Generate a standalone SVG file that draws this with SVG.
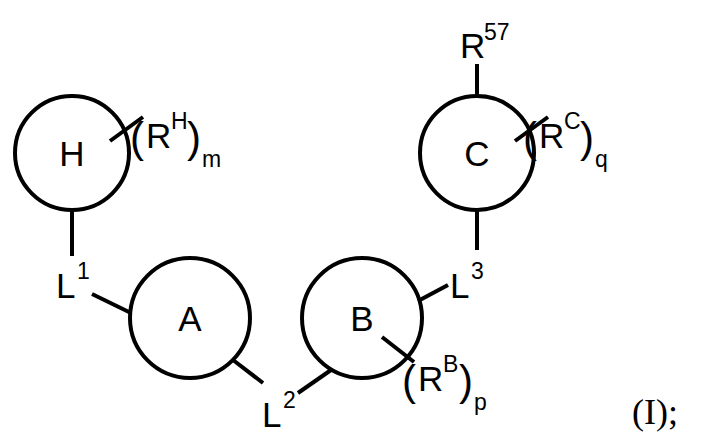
<svg xmlns="http://www.w3.org/2000/svg" width="721" height="439" viewBox="0 0 721 439">
<style>
.r{fill:none;stroke:#000;stroke-width:4}
.l{stroke:#000;stroke-width:4;fill:none}
text{font-family:"Liberation Sans",Arial,sans-serif;font-size:35px;fill:#000}
.s{font-size:23px}
.p{font-size:42px}
</style>
<rect width="721" height="439" fill="#fff"/>
<g id="H"><circle class="r" cx="72" cy="153" r="57"/><text x="72" y="166" text-anchor="middle">H</text></g>
<g id="A"><circle class="r" cx="190" cy="318" r="60"/><text x="190" y="331" text-anchor="middle">A</text></g>
<g id="B"><circle class="r" cx="362" cy="318" r="60"/><text x="362" y="331" text-anchor="middle">B</text></g>
<g id="C"><circle class="r" cx="477" cy="153" r="57"/><text x="477" y="166" text-anchor="middle">C</text></g>
<g id="labels">
<text x="56" y="298">L</text><text class="s" x="77" y="279">1</text>
<text x="262" y="427">L</text><text class="s" x="283" y="408">2</text>
<text x="450" y="298">L</text><text class="s" x="471" y="279">3</text>
<text x="460" y="58">R</text><text class="s" x="484" y="40">57</text>
<text class="p" x="130" y="152">(</text><text x="146" y="148">R</text><text class="s" x="171" y="129">H</text><text class="p" x="187" y="152">)</text><text class="s" x="202" y="167">m</text>
<text class="p" x="523" y="152">(</text><text x="539" y="148">R</text><text class="s" x="564" y="129">C</text><text class="p" x="580" y="152">)</text><text class="s" x="595" y="167">q</text>
<text class="p" x="402" y="395">(</text><text x="418" y="391">R</text><text class="s" x="443" y="372">B</text><text class="p" x="459" y="395">)</text><text class="s" x="474" y="410">p</text>
<text x="632" y="424" style="font-family:'Liberation Serif',serif;font-size:36px">(I);</text>
</g>
<g id="connectors">
<line class="l" x1="72" y1="210" x2="72" y2="256"/>
<line class="l" x1="92" y1="294" x2="131" y2="313"/>
<line class="l" x1="233" y1="360" x2="263" y2="383"/>
<line class="l" x1="298" y1="393" x2="331" y2="370"/>
<line class="l" x1="418" y1="301" x2="448" y2="285"/>
<line class="l" x1="477" y1="210" x2="477" y2="250"/>
<line class="l" x1="477" y1="96" x2="477" y2="64"/>
<line class="l" x1="110" y1="141" x2="143" y2="117"/>
<line class="l" x1="515" y1="141" x2="548" y2="117"/>
<line class="l" x1="382" y1="337" x2="414" y2="362"/>
</g>
</svg>
